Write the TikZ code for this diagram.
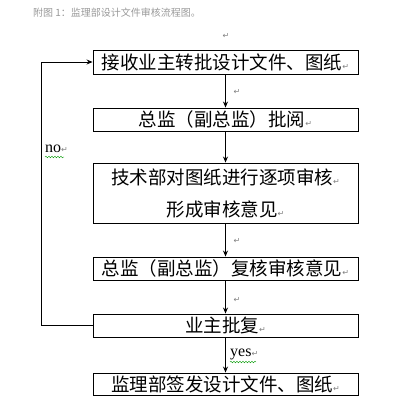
\documentclass[tikz,border=0pt]{standalone}
\usepackage{fontspec}
\setmainfont{Liberation Serif}
\newfontfamily\cjk{Noto Sans CJK SC}
\newfontfamily\dv{DejaVu Sans}
\usetikzlibrary{arrows.meta,decorations.pathmorphing}
\newcommand{\pmk}{{\dv\fontsize{8}{8}\selectfont\color{gray}↵}}
\tikzset{
  flowbox/.style={draw=black,line width=0.9pt,minimum width=265pt,inner sep=0pt,
    font=\cjk\fontsize{18.5}{32}\selectfont,align=center},
  flowarrow/.style={draw=black,line width=0.9pt,-{Stealth[length=6pt,width=5pt]}},
  plain/.style={draw=black,line width=0.9pt},
  marktext/.style={inner sep=0pt},
  wavy/.style={draw=green!60!black,line width=0.4pt,decorate,decoration={snake,amplitude=0.8pt,segment length=3pt}},
  latin/.style={inner sep=0pt,font=\fontsize{16}{16}\selectfont}
}
\begin{document}
\begin{tikzpicture}[x=1pt,y=-1pt]
\useasboundingbox (0,0) rectangle (408,411);
\node[marktext,anchor=west,font=\cjk\fontsize{10}{10}\selectfont,text=gray!80] (title) at (33,13) {附图 1：监理部设计文件审核流程图。};
\node[marktext] (m0) at (226,36) {\pmk};

\node[flowbox,minimum height=24pt] (b1) at (225.5,62) {接收业主转批设计文件、图纸\pmk};
\node[flowbox,minimum height=23pt] (b2) at (225.5,119.5) {总监（副总监）批阅\pmk};
\node[flowbox,minimum height=60pt] (b3) at (225.5,193) {技术部对图纸进行逐项审核\pmk\\形成审核意见\pmk};
\node[flowbox,minimum height=23pt] (b4) at (225.5,268.5) {总监（副总监）复核审核意见\pmk};
\node[flowbox,minimum height=23pt] (b5) at (225.5,325.5) {业主批复\pmk};
\node[flowbox,minimum height=22pt] (b6) at (225.5,384) {监理部签发设计文件、图纸\pmk};

\draw[flowarrow] (b1) -- (b2);
\draw[flowarrow] (b2) -- (b3);
\draw[flowarrow] (b3) -- (b4);
\draw[flowarrow] (b4) -- (b5);
\draw[flowarrow] (b5) -- (b6);

\node[marktext] (m1) at (237,92) {\pmk};
\node[marktext] (m3) at (237,241) {\pmk};
\node[marktext] (m4) at (237,300) {\pmk};

\coordinate (c1) at (41,325.5);
\coordinate (c2) at (41,62);
\draw[plain] (b5.west) -- (c1) -- (c2);
\draw[flowarrow] (c2) -- (b1.west);

\node[latin,anchor=west] (no) at (45,149) {no\pmk};
\draw[wavy] (45,157) -- (64,157);
\node[latin,anchor=west] (yes) at (230,354) {yes\pmk};
\draw[wavy] (230,362) -- (256,362);
\end{tikzpicture}
\end{document}
